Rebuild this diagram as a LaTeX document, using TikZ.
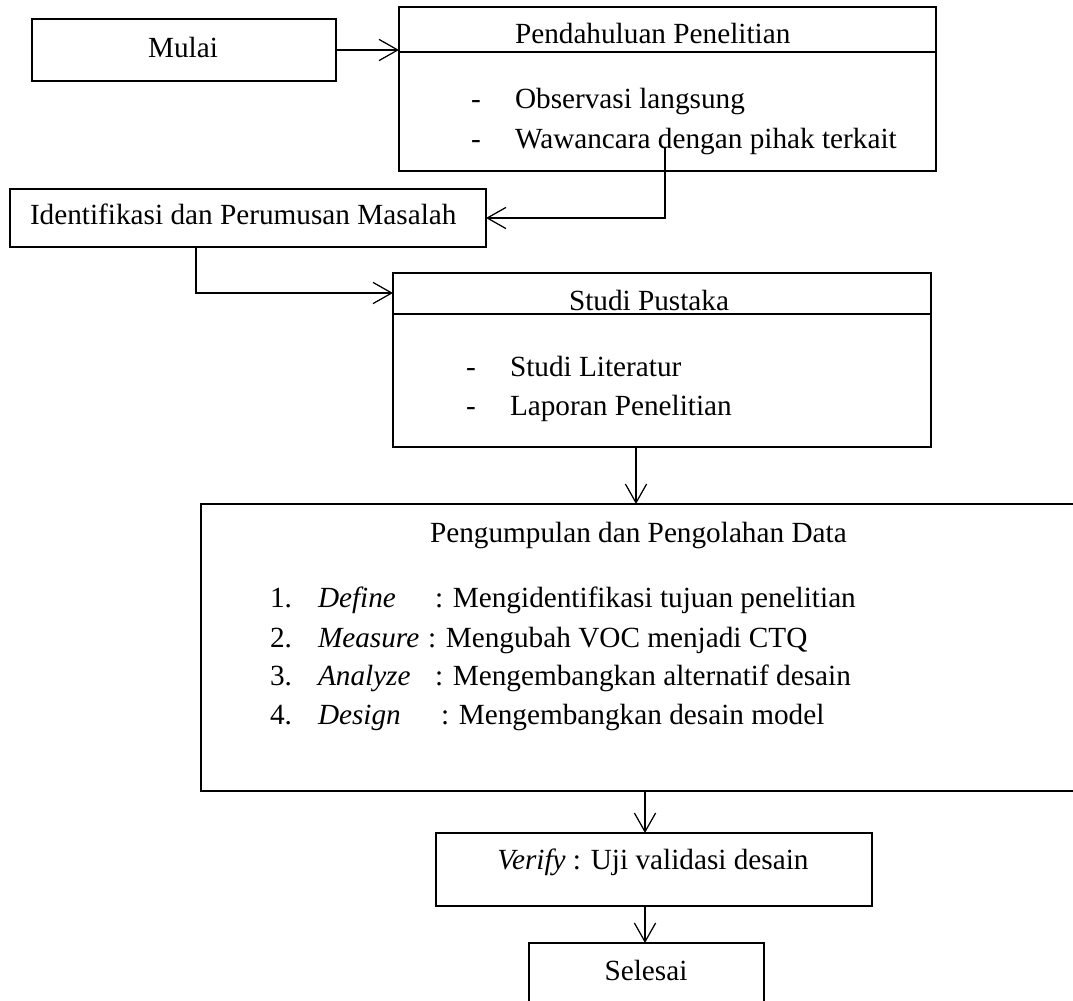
\documentclass[tikz,border=0pt]{standalone}
\usepackage{fontspec}
\setmainfont{Liberation Serif}
\usetikzlibrary{arrows.meta}
\begin{document}
\begin{tikzpicture}[x=0.4pt,y=-0.4pt,
  box/.style={draw,line width=0.5pt,inner sep=0pt,outer sep=0pt,anchor=north west},
  txt/.style={inner sep=0pt,outer sep=0pt,font=\fontsize{11.7pt}{14pt}\selectfont},
  conn/.style={line width=0.5pt,-{Straight Barb[length=7.5pt,width=8.5pt,line width=0.5pt]}}]
\clip (0,0) rectangle (1073,1000);
\fill[white] (0,0) rectangle (1073,1000);
% boxes
\node[box,minimum width=121.6pt,minimum height=24.8pt] (mulai) at (32,19) {};
\node[box,minimum width=214.8pt,minimum height=65.6pt] (pend) at (399,7) {};
\node[box,minimum width=190.4pt,minimum height=23.2pt] (ident) at (10,189) {};
\node[box,minimum width=215.2pt,minimum height=69.6pt] (studi) at (393,273) {};
\node[box,minimum width=355.6pt,minimum height=114.8pt] (peng) at (201,504) {};
\node[box,minimum width=174.4pt,minimum height=29.2pt] (verify) at (436,833) {};
\node[box,minimum width=94pt,minimum height=30pt] (selesai) at (529,943) {};
% dividers
\draw[line width=0.5pt] (pend.west |- 0,52) -- (pend.east |- 0,52);
\draw[line width=0.5pt] (studi.west |- 0,314) -- (studi.east |- 0,314);
% texts
\node[txt,anchor=base] (tmulai) at (183,57) {Mulai};
\node[txt,anchor=base west] (tpend) at (515,43) {Pendahuluan Penelitian};
\node[txt,anchor=base west] (d1) at (471,108) {-};
\node[txt,anchor=base west] (p1) at (515,108) {Observasi langsung};
\node[txt,anchor=base west] (d2) at (471,148) {-};
\node[txt,anchor=base west] (p2) at (515,148) {Wawancara dengan pihak terkait};
\node[txt,anchor=base west] (tident) at (30,224) {Identifikasi dan Perumusan Masalah};
\node[txt,anchor=base west] (tstudi) at (569,310) {Studi Pustaka};
\node[txt,anchor=base west] (d3) at (466,376) {-};
\node[txt,anchor=base west] (s1) at (510,376) {Studi Literatur};
\node[txt,anchor=base west] (d4) at (466,415) {-};
\node[txt,anchor=base west] (s2) at (510,415) {Laporan Penelitian};
\node[txt,anchor=base west] (tpeng) at (430,542) {Pengumpulan dan Pengolahan Data};
\node[txt,anchor=base west] (n1) at (270,607) {1.};
\node[txt,anchor=base west] (i1) at (318,607) {\itshape Define};
\node[txt,anchor=base west] (r1) at (435,607) {: Mengidentifikasi tujuan penelitian};
\node[txt,anchor=base west] (n2) at (270,647) {2.};
\node[txt,anchor=base west] (i2) at (318,647) {\itshape Measure};
\node[txt,anchor=base west] (r2) at (428,647) {: Mengubah VOC menjadi CTQ};
\node[txt,anchor=base west] (n3) at (270,685) {3.};
\node[txt,anchor=base west] (i3) at (318,685) {\itshape Analyze};
\node[txt,anchor=base west] (r3) at (435,685) {: Mengembangkan alternatif desain};
\node[txt,anchor=base west] (n4) at (270,724) {4.};
\node[txt,anchor=base west] (i4) at (318,724) {\itshape Design};
\node[txt,anchor=base west] (r4) at (441,724) {: Mengembangkan desain model};
\node[txt,anchor=base] (tverify) at (653,869) {\itshape Verify\upshape\ : Uji validasi desain};
\node[txt,anchor=base] (tselesai) at (646,980) {Selesai};
% connector points
\coordinate (cp) at (665,148);
\coordinate (ci) at (196,247);
\coordinate (cs) at (393,293);
\coordinate (cd) at (636,447);
\coordinate (cv) at (645,791);
% connectors
\draw[conn] (mulai.east) -- (mulai.east -| pend.west);
\draw[conn] (cp) |- (ident.east);
\draw[conn] (ci) |- (cs);
\draw[conn] (cd) -- (cd |- peng.north);
\draw[conn] (cv) -- (cv |- verify.north);
\draw[conn] (cv |- verify.south) -- (cv |- selesai.north);
\end{tikzpicture}
\end{document}
